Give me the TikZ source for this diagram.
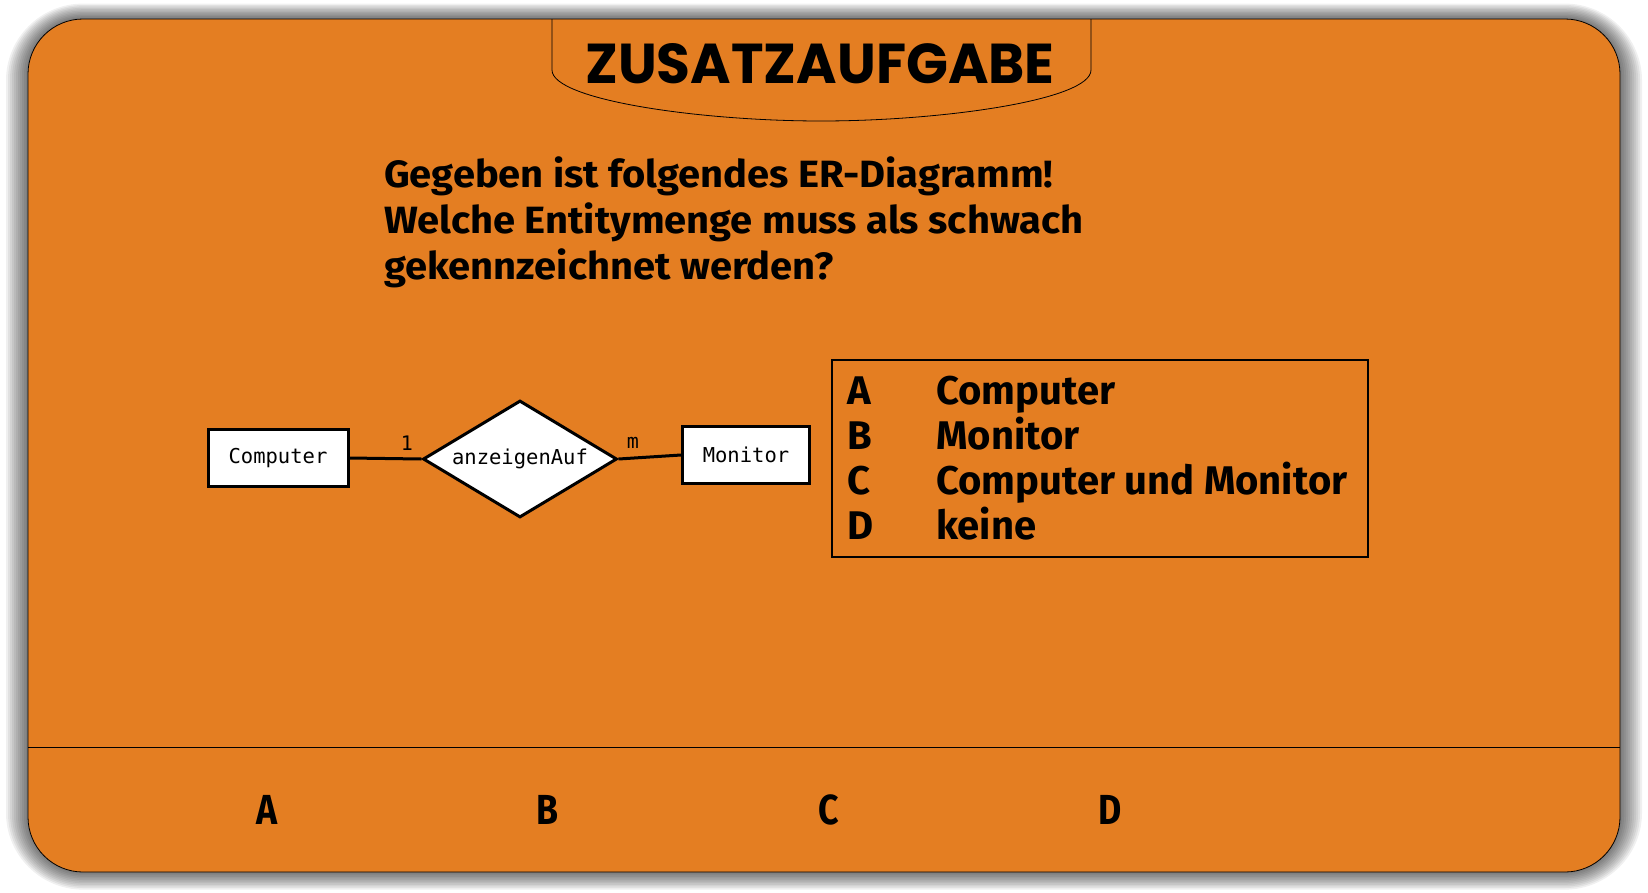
\documentclass[tikz,border=0pt]{standalone}
\usepackage{fontspec}
\setmainfont{Fira Sans}
\newfontfamily\titlefont{Poppins}
\newfontfamily\monofont{DejaVu Sans Mono}
\usetikzlibrary{shapes.geometric}
\definecolor{bgorange}{RGB}{228,126,34}
\tikzset{
  entity/.style={draw=black, line width=3pt, fill=white, rectangle, inner sep=0pt, font=\monofont\fontsize{20.5}{24}\selectfont},
  relation/.style={draw=black, line width=3pt, fill=white, diamond, aspect=1.66, inner sep=0pt, minimum width=194pt, minimum height=117pt, font=\monofont\fontsize{20.5}{24}\selectfont},
  card/.style={font=\monofont\fontsize{20}{22}\selectfont, inner sep=0pt},
  conn/.style={line width=3pt, draw=black},
  question/.style={anchor=base west, inner sep=0pt, font=\bfseries\fontsize{38}{45}\selectfont},
  answer/.style={anchor=base west, inner sep=0pt, font=\bfseries\fontsize{40}{45}\selectfont},
  choice/.style={inner sep=0pt, font=\bfseries\fontsize{42}{45}\selectfont},
}
\begin{document}
\begin{tikzpicture}[x=1pt, y=-1pt]
\useasboundingbox (0,0) rectangle (1648,892);
\fill[white] (0,0) rectangle (1648,892);
% shadow
\foreach \e in {22,20,...,2}{
  \fill[black, fill opacity=0.06, rounded corners=55pt+\e pt] (28-\e,19-\e*0.7) rectangle (1620+\e,872+\e*0.8);
}
% main card
\fill[bgorange, rounded corners=55pt] (28,19) rectangle (1620,872);
\draw[black, line width=0.8pt, rounded corners=55pt] (28,19) rectangle (1620,872);
% divider
\coordinate (dl) at (28,747);
\coordinate (dr) at (1620,747);
\draw[black, line width=0.8pt] (dl) -- (dr);
% title tab
\draw[black, line width=0.8pt] (552,19) -- (552,70) .. controls (552,100) and (700,121) .. (821,121) .. controls (942,121) and (1091,100) .. (1091,70) -- (1091,19);
\node[inner sep=0pt] (title) at (820,64) {\resizebox{469pt}{40pt}{\titlefont\bfseries ZUSATZAUFGABE}};
% question
\node[question] (q1) at (384,187) {\scalebox{1.05}[1]{Gegeben ist folgendes ER-Diagramm!}};
\node[question] (q2) at (384,233) {\scalebox{1.05}[1]{Welche Entitymenge muss als schwach}};
\node[question] (q3) at (384,279) {\scalebox{1.05}[1]{gekennzeichnet werden?}};
% ER diagram
\node[entity, minimum width=140pt, minimum height=57pt] (comp) at (278,458) {Computer};
\node[relation] (rel) at (520,459) {anzeigenAuf};
\node[entity, minimum width=127pt, minimum height=57pt] (mon) at (746,455) {Monitor};
\draw[conn] (comp.east) -- (rel.west);
\draw[conn] (rel.east) -- (mon.west);
\node[card] (c1) at (407,443) {1};
\node[card] (cm) at (633,443) {m};
% answer box
\node[draw=black, line width=2.5pt, minimum width=536pt, minimum height=197pt, inner sep=0pt] (abox) at (1100,458.5) {};
\node[answer] (la) at (847,404) {A};
\node[answer] (ta) at (936,404) {Computer};
\node[answer] (lb) at (847,449) {B};
\node[answer] (tb) at (936,449) {Monitor};
\node[answer] (lc) at (847,494) {C};
\node[answer] (tc) at (936,494) {Computer und Monitor};
\node[answer] (ld) at (847,539) {D};
\node[answer] (td) at (936,539) {keine};
% bottom choices
\node[choice] (ca) at (267,810) {\scalebox{0.85}[1]{A}};
\node[choice] (cb) at (548,810) {\scalebox{0.85}[1]{B}};
\node[choice] (cc) at (829,810) {\scalebox{0.85}[1]{C}};
\node[choice] (cd) at (1110,810) {\scalebox{0.85}[1]{D}};
\end{tikzpicture}
\end{document}
